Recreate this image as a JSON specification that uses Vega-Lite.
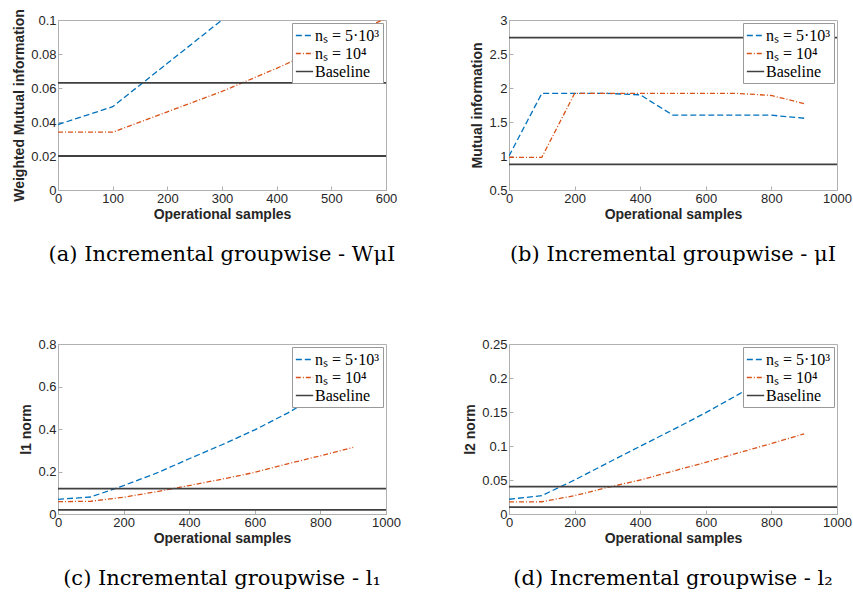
{
  "$schema": "https://vega.github.io/schema/vega-lite/v6.json",
  "padding": {"left": 12, "top": 8, "right": 2, "bottom": 2},
  "background": "white",
  "columns": 2,
  "bounds": "flush",
  "spacing": {"row": 154, "column": 123},
  "datasets": {
    "a_lines": [
      {"x": 0, "y": 0.0385, "series": "nₛ = 5·10³"},
      {"x": 100, "y": 0.049, "series": "nₛ = 5·10³"},
      {"x": 200, "y": 0.0745, "series": "nₛ = 5·10³"},
      {"x": 300, "y": 0.1, "series": "nₛ = 5·10³"},
      {"x": 0, "y": 0.034, "series": "nₛ = 10⁴"},
      {"x": 100, "y": 0.034, "series": "nₛ = 10⁴"},
      {"x": 200, "y": 0.046, "series": "nₛ = 10⁴"},
      {"x": 300, "y": 0.058, "series": "nₛ = 10⁴"},
      {"x": 400, "y": 0.0716, "series": "nₛ = 10⁴"},
      {"x": 500, "y": 0.086, "series": "nₛ = 10⁴"},
      {"x": 600, "y": 0.101, "series": "nₛ = 10⁴"}
    ],
    "a_base": [
      {"y": 0.063, "series": "Baseline"},
      {"y": 0.020, "series": "Baseline"}
    ],
    "b_lines": [
      {"x": 0, "y": 1.0, "series": "nₛ = 5·10³"},
      {"x": 100, "y": 1.92, "series": "nₛ = 5·10³"},
      {"x": 200, "y": 1.92, "series": "nₛ = 5·10³"},
      {"x": 300, "y": 1.92, "series": "nₛ = 5·10³"},
      {"x": 400, "y": 1.9, "series": "nₛ = 5·10³"},
      {"x": 500, "y": 1.6, "series": "nₛ = 5·10³"},
      {"x": 600, "y": 1.6, "series": "nₛ = 5·10³"},
      {"x": 700, "y": 1.6, "series": "nₛ = 5·10³"},
      {"x": 800, "y": 1.6, "series": "nₛ = 5·10³"},
      {"x": 900, "y": 1.555, "series": "nₛ = 5·10³"},
      {"x": 0, "y": 0.98, "series": "nₛ = 10⁴"},
      {"x": 100, "y": 0.98, "series": "nₛ = 10⁴"},
      {"x": 200, "y": 1.92, "series": "nₛ = 10⁴"},
      {"x": 300, "y": 1.92, "series": "nₛ = 10⁴"},
      {"x": 400, "y": 1.92, "series": "nₛ = 10⁴"},
      {"x": 500, "y": 1.92, "series": "nₛ = 10⁴"},
      {"x": 600, "y": 1.92, "series": "nₛ = 10⁴"},
      {"x": 700, "y": 1.92, "series": "nₛ = 10⁴"},
      {"x": 800, "y": 1.89, "series": "nₛ = 10⁴"},
      {"x": 900, "y": 1.77, "series": "nₛ = 10⁴"}
    ],
    "b_base": [
      {"y": 2.74, "series": "Baseline"},
      {"y": 0.877, "series": "Baseline"}
    ],
    "c_lines": [
      {"x": 0, "y": 0.069, "series": "nₛ = 5·10³"},
      {"x": 100, "y": 0.08, "series": "nₛ = 5·10³"},
      {"x": 200, "y": 0.134, "series": "nₛ = 5·10³"},
      {"x": 300, "y": 0.192, "series": "nₛ = 5·10³"},
      {"x": 400, "y": 0.26, "series": "nₛ = 5·10³"},
      {"x": 500, "y": 0.326, "series": "nₛ = 5·10³"},
      {"x": 600, "y": 0.396, "series": "nₛ = 5·10³"},
      {"x": 700, "y": 0.475, "series": "nₛ = 5·10³"},
      {"x": 800, "y": 0.565, "series": "nₛ = 5·10³"},
      {"x": 900, "y": 0.66, "series": "nₛ = 5·10³"},
      {"x": 0, "y": 0.058, "series": "nₛ = 10⁴"},
      {"x": 100, "y": 0.06, "series": "nₛ = 10⁴"},
      {"x": 200, "y": 0.079, "series": "nₛ = 10⁴"},
      {"x": 300, "y": 0.105, "series": "nₛ = 10⁴"},
      {"x": 400, "y": 0.134, "series": "nₛ = 10⁴"},
      {"x": 500, "y": 0.164, "series": "nₛ = 10⁴"},
      {"x": 600, "y": 0.196, "series": "nₛ = 10⁴"},
      {"x": 700, "y": 0.236, "series": "nₛ = 10⁴"},
      {"x": 800, "y": 0.274, "series": "nₛ = 10⁴"},
      {"x": 900, "y": 0.314, "series": "nₛ = 10⁴"}
    ],
    "c_base": [
      {"y": 0.119, "series": "Baseline"},
      {"y": 0.019, "series": "Baseline"}
    ],
    "d_lines": [
      {"x": 0, "y": 0.0217, "series": "nₛ = 5·10³"},
      {"x": 100, "y": 0.027, "series": "nₛ = 5·10³"},
      {"x": 200, "y": 0.05, "series": "nₛ = 5·10³"},
      {"x": 300, "y": 0.075, "series": "nₛ = 5·10³"},
      {"x": 400, "y": 0.0996, "series": "nₛ = 5·10³"},
      {"x": 500, "y": 0.124, "series": "nₛ = 5·10³"},
      {"x": 600, "y": 0.149, "series": "nₛ = 5·10³"},
      {"x": 700, "y": 0.176, "series": "nₛ = 5·10³"},
      {"x": 800, "y": 0.203, "series": "nₛ = 5·10³"},
      {"x": 900, "y": 0.23, "series": "nₛ = 5·10³"},
      {"x": 0, "y": 0.0178, "series": "nₛ = 10⁴"},
      {"x": 100, "y": 0.018, "series": "nₛ = 10⁴"},
      {"x": 200, "y": 0.027, "series": "nₛ = 10⁴"},
      {"x": 300, "y": 0.039, "series": "nₛ = 10⁴"},
      {"x": 400, "y": 0.05, "series": "nₛ = 10⁴"},
      {"x": 500, "y": 0.063, "series": "nₛ = 10⁴"},
      {"x": 600, "y": 0.076, "series": "nₛ = 10⁴"},
      {"x": 700, "y": 0.09, "series": "nₛ = 10⁴"},
      {"x": 800, "y": 0.1036, "series": "nₛ = 10⁴"},
      {"x": 900, "y": 0.118, "series": "nₛ = 10⁴"}
    ],
    "d_base": [
      {"y": 0.0404, "series": "Baseline"},
      {"y": 0.01, "series": "Baseline"}
    ]
  },
  "resolve": {"scale": {"color": "independent", "strokeDash": "independent", "x": "independent", "y": "independent"}, "legend": {"color": "independent", "strokeDash": "independent"}},
  "concat": [
    {
      "width": 328, "height": 170,
      "title": {"text": "(a) Incremental groupwise - WμI"},
      "layer": [
        {
          "data": {"name": "a_lines"},
          "mark": {"type": "line", "clip": true, "strokeWidth": 1.3},
          "encoding": {
            "x": {"field": "x", "type": "quantitative", "title": "Operational samples", "scale": {"domain": [0, 600], "nice": false}, "axis": {"values": [0, 100, 200, 300, 400, 500, 600], "tickCount": 12}},
            "y": {"field": "y", "type": "quantitative", "title": "Weighted Mutual information", "scale": {"domain": [0, 0.1], "nice": false}, "axis": {"values": [0, 0.02, 0.04, 0.06, 0.08, 0.1], "tickCount": 12}},
            "color": {"field": "series", "type": "nominal", "scale": {"domain": ["nₛ = 5·10³", "nₛ = 10⁴", "Baseline"], "range": ["#0072BD", "#D95319", "#404040"]}, "legend": {"title": null}},
            "strokeDash": {"field": "series", "type": "nominal", "scale": {"domain": ["nₛ = 5·10³", "nₛ = 10⁴", "Baseline"], "range": [[6, 3], [5, 2, 1, 2], [1, 0]]}, "legend": {"title": null}}
          }
        },
        {
          "data": {"name": "a_base"},
          "mark": {"type": "rule", "strokeWidth": 1.8},
          "encoding": {
            "y": {"field": "y", "type": "quantitative"},
            "color": {"field": "series", "type": "nominal"},
            "strokeDash": {"field": "series", "type": "nominal"}
          }
        }
      ]
    },
    {
      "width": 328, "height": 170,
      "title": {"text": "(b) Incremental groupwise - μI"},
      "layer": [
        {
          "data": {"name": "b_lines"},
          "mark": {"type": "line", "clip": true, "strokeWidth": 1.3},
          "encoding": {
            "x": {"field": "x", "type": "quantitative", "title": "Operational samples", "scale": {"domain": [0, 1000], "nice": false}, "axis": {"values": [0, 200, 400, 600, 800, 1000], "tickCount": 12}},
            "y": {"field": "y", "type": "quantitative", "title": "Mutual information", "scale": {"domain": [0.5, 3], "nice": false, "zero": false}, "axis": {"values": [0.5, 1, 1.5, 2, 2.5, 3], "tickCount": 12}},
            "color": {"field": "series", "type": "nominal", "scale": {"domain": ["nₛ = 5·10³", "nₛ = 10⁴", "Baseline"], "range": ["#0072BD", "#D95319", "#404040"]}, "legend": {"title": null}},
            "strokeDash": {"field": "series", "type": "nominal", "scale": {"domain": ["nₛ = 5·10³", "nₛ = 10⁴", "Baseline"], "range": [[6, 3], [5, 2, 1, 2], [1, 0]]}, "legend": {"title": null}}
          }
        },
        {
          "data": {"name": "b_base"},
          "mark": {"type": "rule", "strokeWidth": 1.8},
          "encoding": {
            "y": {"field": "y", "type": "quantitative"},
            "color": {"field": "series", "type": "nominal"},
            "strokeDash": {"field": "series", "type": "nominal"}
          }
        }
      ]
    },
    {
      "width": 328, "height": 170,
      "title": {"text": "(c) Incremental groupwise - l₁"},
      "layer": [
        {
          "data": {"name": "c_lines"},
          "mark": {"type": "line", "clip": true, "strokeWidth": 1.3},
          "encoding": {
            "x": {"field": "x", "type": "quantitative", "title": "Operational samples", "scale": {"domain": [0, 1000], "nice": false}, "axis": {"values": [0, 200, 400, 600, 800, 1000], "tickCount": 12}},
            "y": {"field": "y", "type": "quantitative", "title": "l1 norm", "scale": {"domain": [0, 0.8], "nice": false}, "axis": {"values": [0, 0.2, 0.4, 0.6, 0.8], "tickCount": 12}},
            "color": {"field": "series", "type": "nominal", "scale": {"domain": ["nₛ = 5·10³", "nₛ = 10⁴", "Baseline"], "range": ["#0072BD", "#D95319", "#404040"]}, "legend": {"title": null}},
            "strokeDash": {"field": "series", "type": "nominal", "scale": {"domain": ["nₛ = 5·10³", "nₛ = 10⁴", "Baseline"], "range": [[6, 3], [5, 2, 1, 2], [1, 0]]}, "legend": {"title": null}}
          }
        },
        {
          "data": {"name": "c_base"},
          "mark": {"type": "rule", "strokeWidth": 1.8},
          "encoding": {
            "y": {"field": "y", "type": "quantitative"},
            "color": {"field": "series", "type": "nominal"},
            "strokeDash": {"field": "series", "type": "nominal"}
          }
        }
      ]
    },
    {
      "width": 328, "height": 170,
      "title": {"text": "(d) Incremental groupwise - l₂"},
      "layer": [
        {
          "data": {"name": "d_lines"},
          "mark": {"type": "line", "clip": true, "strokeWidth": 1.3},
          "encoding": {
            "x": {"field": "x", "type": "quantitative", "title": "Operational samples", "scale": {"domain": [0, 1000], "nice": false}, "axis": {"values": [0, 200, 400, 600, 800, 1000], "tickCount": 12}},
            "y": {"field": "y", "type": "quantitative", "title": "l2 norm", "scale": {"domain": [0, 0.25], "nice": false}, "axis": {"values": [0, 0.05, 0.1, 0.15, 0.2, 0.25], "tickCount": 12}},
            "color": {"field": "series", "type": "nominal", "scale": {"domain": ["nₛ = 5·10³", "nₛ = 10⁴", "Baseline"], "range": ["#0072BD", "#D95319", "#404040"]}, "legend": {"title": null}},
            "strokeDash": {"field": "series", "type": "nominal", "scale": {"domain": ["nₛ = 5·10³", "nₛ = 10⁴", "Baseline"], "range": [[6, 3], [5, 2, 1, 2], [1, 0]]}, "legend": {"title": null}}
          }
        },
        {
          "data": {"name": "d_base"},
          "mark": {"type": "rule", "strokeWidth": 1.8},
          "encoding": {
            "y": {"field": "y", "type": "quantitative"},
            "color": {"field": "series", "type": "nominal"},
            "strokeDash": {"field": "series", "type": "nominal"}
          }
        }
      ]
    }
  ],
  "config": {
    "view": {"stroke": "#b0b0b0", "strokeWidth": 1},
    "axis": {
      "grid": false,
      "domainColor": "#b0b0b0",
      "tickColor": "#b0b0b0",
      "tickSize": -4,
      "labelFont": "Liberation Sans",
      "labelFontSize": 13,
      "labelColor": "#262626",
      "labelPadding": 6,
      "titleFont": "Liberation Sans",
      "titleFontSize": 14,
      "titleFontWeight": "bold",
      "titleColor": "#262626",
      "format": "~r",
      "labelFlush": false,
      "labelOverlap": false
    },
    "axisX": {"titlePadding": 2},
    "axisY": {"titlePadding": 4},
    "legend": {
      "orient": "top-right",
      "offset": 3,
      "padding": 3,
      "fillColor": "white",
      "strokeColor": "#999999",
      "symbolType": "stroke",
      "symbolSize": 300,
      "symbolStrokeWidth": 1.5,
      "labelFont": "Liberation Serif",
      "labelFontSize": 16,
      "labelColor": "#000000",
      "rowPadding": 0,
      "labelOffset": 1
    },
    "title": {
      "orient": "bottom",
      "anchor": "middle",
      "font": "DejaVu Serif",
      "fontSize": 21,
      "fontWeight": "normal",
      "color": "#000000",
      "offset": 23
    }
  }
}
